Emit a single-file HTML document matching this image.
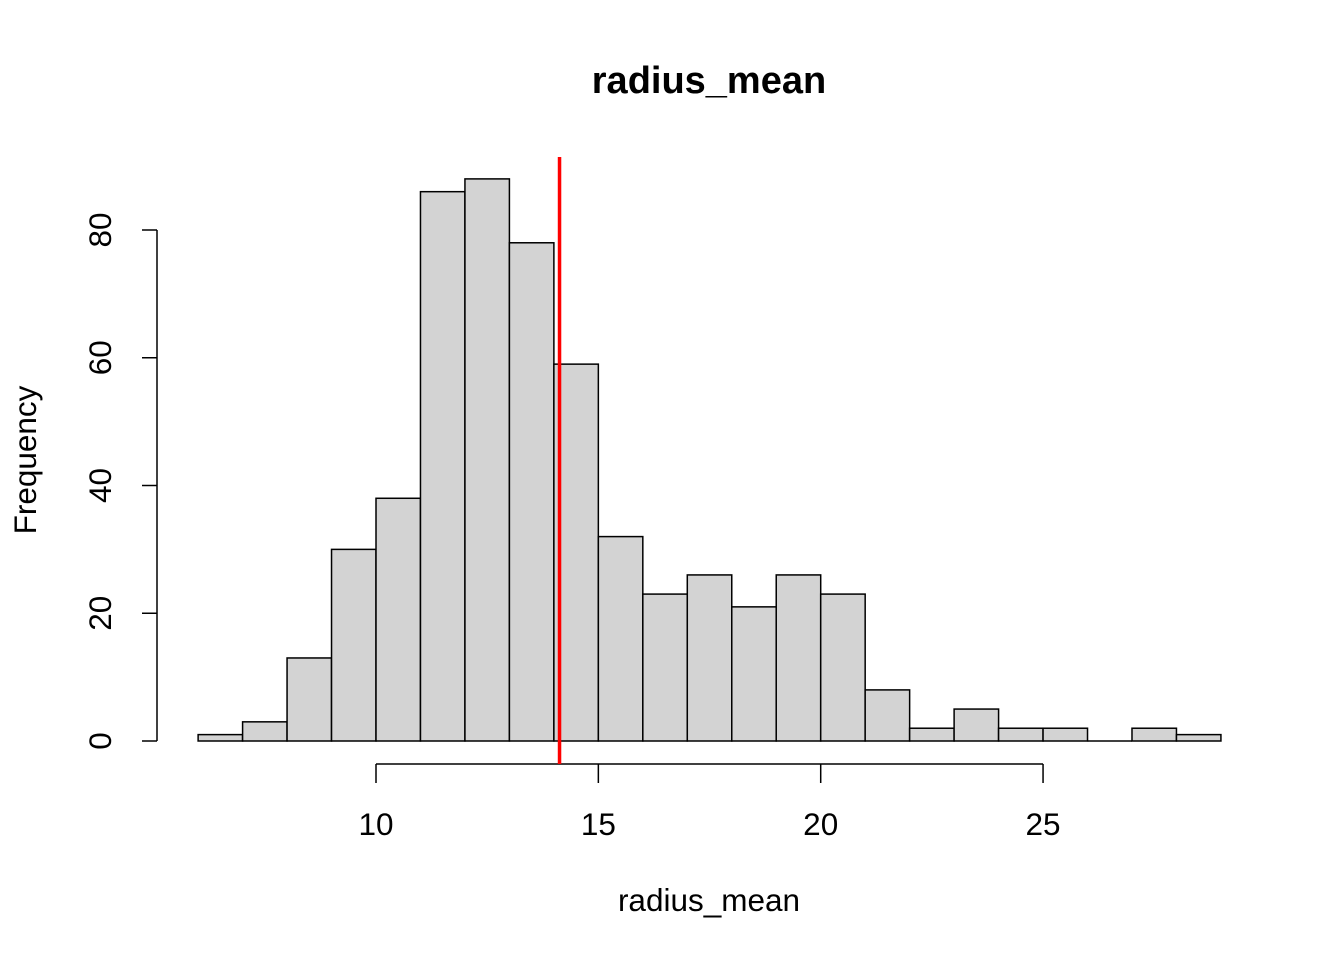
<!DOCTYPE html>
<html><head><meta charset="utf-8"><style>body{margin:0;background:#fff}svg{display:block}text{font-family:"Liberation Sans",Arial,sans-serif;fill:#000}</style></head>
<body>
<svg id="chart" width="1344" height="960" viewBox="0 0 1344 960" xmlns="http://www.w3.org/2000/svg">
<text x="709" y="93" text-anchor="middle" font-size="38" font-weight="bold">radius_mean</text>
<text x="709" y="911" text-anchor="middle" font-size="31.5">radius_mean</text>
<text transform="translate(36,460) rotate(-90)" text-anchor="middle" font-size="31.5">Frequency</text>
<g id="bars"></g>
<g id="axes"></g>
</svg>
<script>
const binStarts=[6,7,8,9,10,11,12,13,14,15,16,17,18,19,20,21,22,23,24,25,26,27,28];
const counts=[1,3,13,30,38,86,88,78,59,32,23,26,21,26,23,8,2,5,2,2,0,2,1];
const xTicks=[10,15,20,25];
const yTicks=[0,20,40,60,80];
const meanValue=14.127;
const binWidth=1;
const NS="http://www.w3.org/2000/svg";
function xs(v){return 376+(v-10)*44.47;}
function ys(v){return 741-v*6.3875;}
function mk(tag,attrs,parent){const e=document.createElementNS(NS,tag);for(const k in attrs)e.setAttribute(k,attrs[k]);parent.appendChild(e);return e;}
const bars=document.getElementById('bars'),axes=document.getElementById('axes');
binStarts.forEach((b,i)=>{
  let r;
  if(counts[i]===0){
    r=mk('line',{x1:xs(b),x2:xs(b+binWidth),y1:ys(0),y2:ys(0),stroke:'#000','stroke-width':1.5},bars);
  } else {
    r=mk('rect',{x:xs(b),y:ys(counts[i]),width:xs(b+binWidth)-xs(b),height:ys(0)-ys(counts[i]),fill:'#d3d3d3',stroke:'#000','stroke-width':1.5},bars);
  }
  
  
});
const xl=mk('line',{x1:xs(xTicks[0]),x2:xs(xTicks[xTicks.length-1]),y1:764,y2:764,stroke:'#000','stroke-width':1.5},axes);


xTicks.forEach(t=>{
  const l=mk('line',{x1:xs(t),x2:xs(t),y1:764,y2:783,stroke:'#000','stroke-width':1.5},axes);
  
  
  const tx=mk('text',{x:xs(t),y:835,'text-anchor':'middle','font-size':31.5},axes);
  tx.textContent=t;
  
  
});
const yl=mk('line',{x1:157,x2:157,y1:ys(yTicks[yTicks.length-1]),y2:ys(yTicks[0]),stroke:'#000','stroke-width':1.5},axes);


yTicks.forEach(t=>{
  const l=mk('line',{x1:142,x2:157,y1:ys(t),y2:ys(t),stroke:'#000','stroke-width':1.5},axes);
  
  
  const tx=mk('text',{transform:'translate(111,'+ys(t)+') rotate(-90)','text-anchor':'middle','font-size':31.5},axes);
  tx.textContent=t;
  
  
});
const ml=mk('line',{x1:xs(meanValue),x2:xs(meanValue),y1:157,y2:764,stroke:'#ff0000','stroke-width':3.5},document.getElementById('chart'));


</script>
</body></html>
